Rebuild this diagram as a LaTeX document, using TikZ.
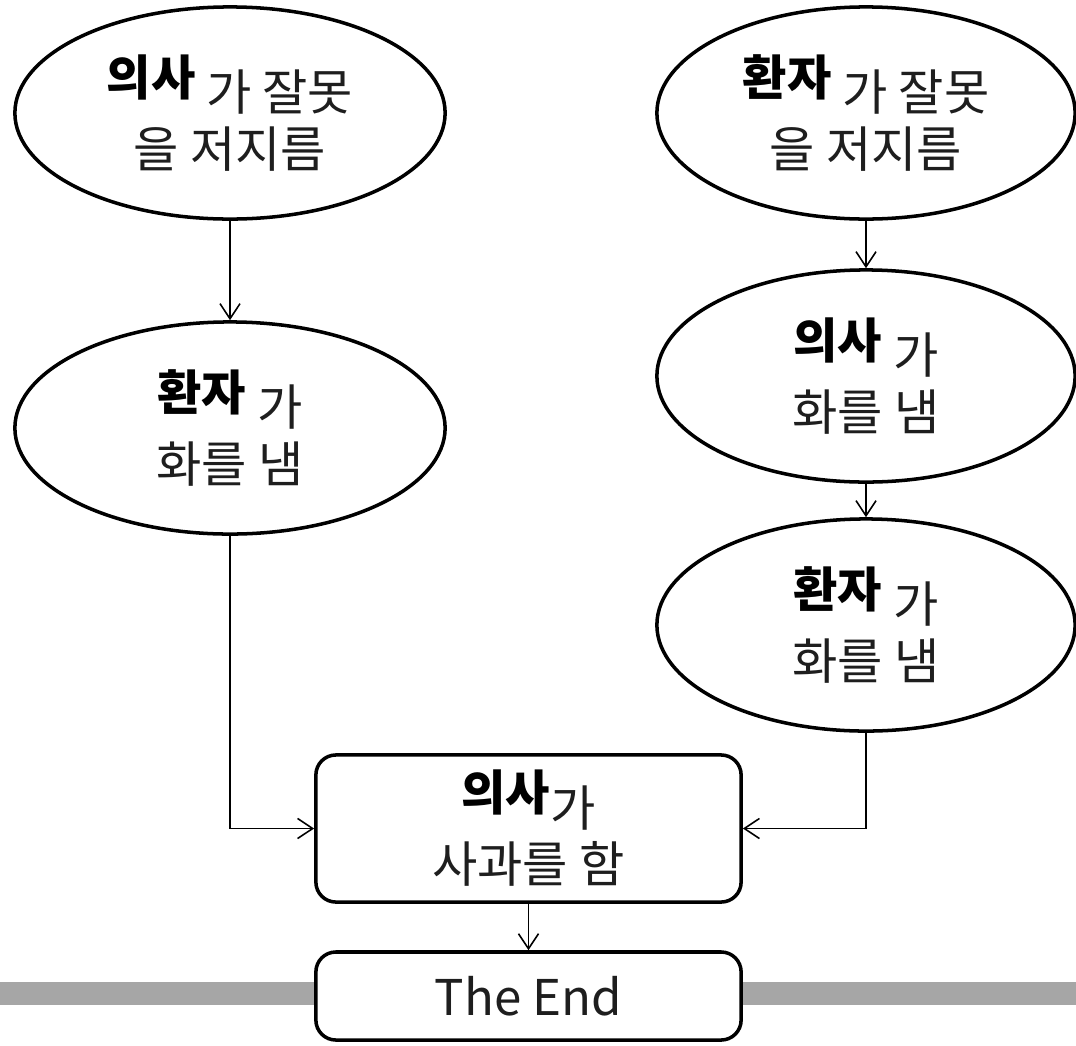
\documentclass[tikz,border=0pt]{standalone}
\usepackage{fontspec}
\setmainfont{Noto Sans CJK KR}
\usetikzlibrary{shapes.geometric,arrows.meta}
\definecolor{txtgray}{RGB}{30,30,30}
\definecolor{bandgray}{RGB}{166,166,166}
\newcommand\actor[1]{\raisebox{4.3pt}{\fontsize{13.7}{16}\selectfont\bfseries\color{black}#1}}
\tikzset{
  eventnode/.style={ellipse,draw,line width=1pt,fill=white,inner sep=0pt,
    minimum width=4.3cm,minimum height=2.12cm,align=center,text=txtgray,
    font=\fontsize{14}{16.2}\selectfont},
  roundbox/.style={rectangle,draw,line width=1pt,fill=white,rounded corners=0.2cm,
    minimum width=4.25cm,align=center,text=txtgray,
    font=\fontsize{14}{16.2}\selectfont},
  link/.style={-{Straight Barb[length=4.3pt,width=5.7pt]},line width=0.45pt},
}
\begin{document}
\begin{tikzpicture}[x=0.01cm,y=-0.01cm]
    \useasboundingbox (0,0) rectangle (1076,1045);
    \fill[bandgray] (0,982) rectangle (1076,1005);
    % left branch
    \node[eventnode] (lt1) at (230,113) {\actor{의사} 가 잘못\\을 저지름};
    \node[eventnode] (lt2) at (230,428) {\actor{환자} 가\\화를 냄};
    % right branch
    \node[eventnode,minimum width=4.18cm] (rt1) at (866,113) {\actor{환자} 가 잘못\\을 저지름};
    \node[eventnode,minimum width=4.18cm] (rt2) at (866,376) {\actor{의사} 가\\화를 냄};
    \node[eventnode,minimum width=4.18cm] (rt3) at (866,625) {\actor{환자} 가\\화를 냄};
    % outcome
    \node[roundbox,minimum height=1.47cm] (sorry) at (528.5,828.5) {\actor{의사}가\\사과를 함};
    \node[roundbox,minimum height=0.88cm] (fin) at (528.5,996) {The End};
    \draw[link] (lt1) -- (lt2);
    \draw[link] (rt1) -- (rt2);
    \draw[link] (rt2) -- (rt3);
    \draw[link] (lt2.south) |- (sorry.west);
    \draw[link] (rt3.south) |- (sorry.east);
    \draw[link] (sorry) -- (fin);
  \end{tikzpicture}
\end{document}
